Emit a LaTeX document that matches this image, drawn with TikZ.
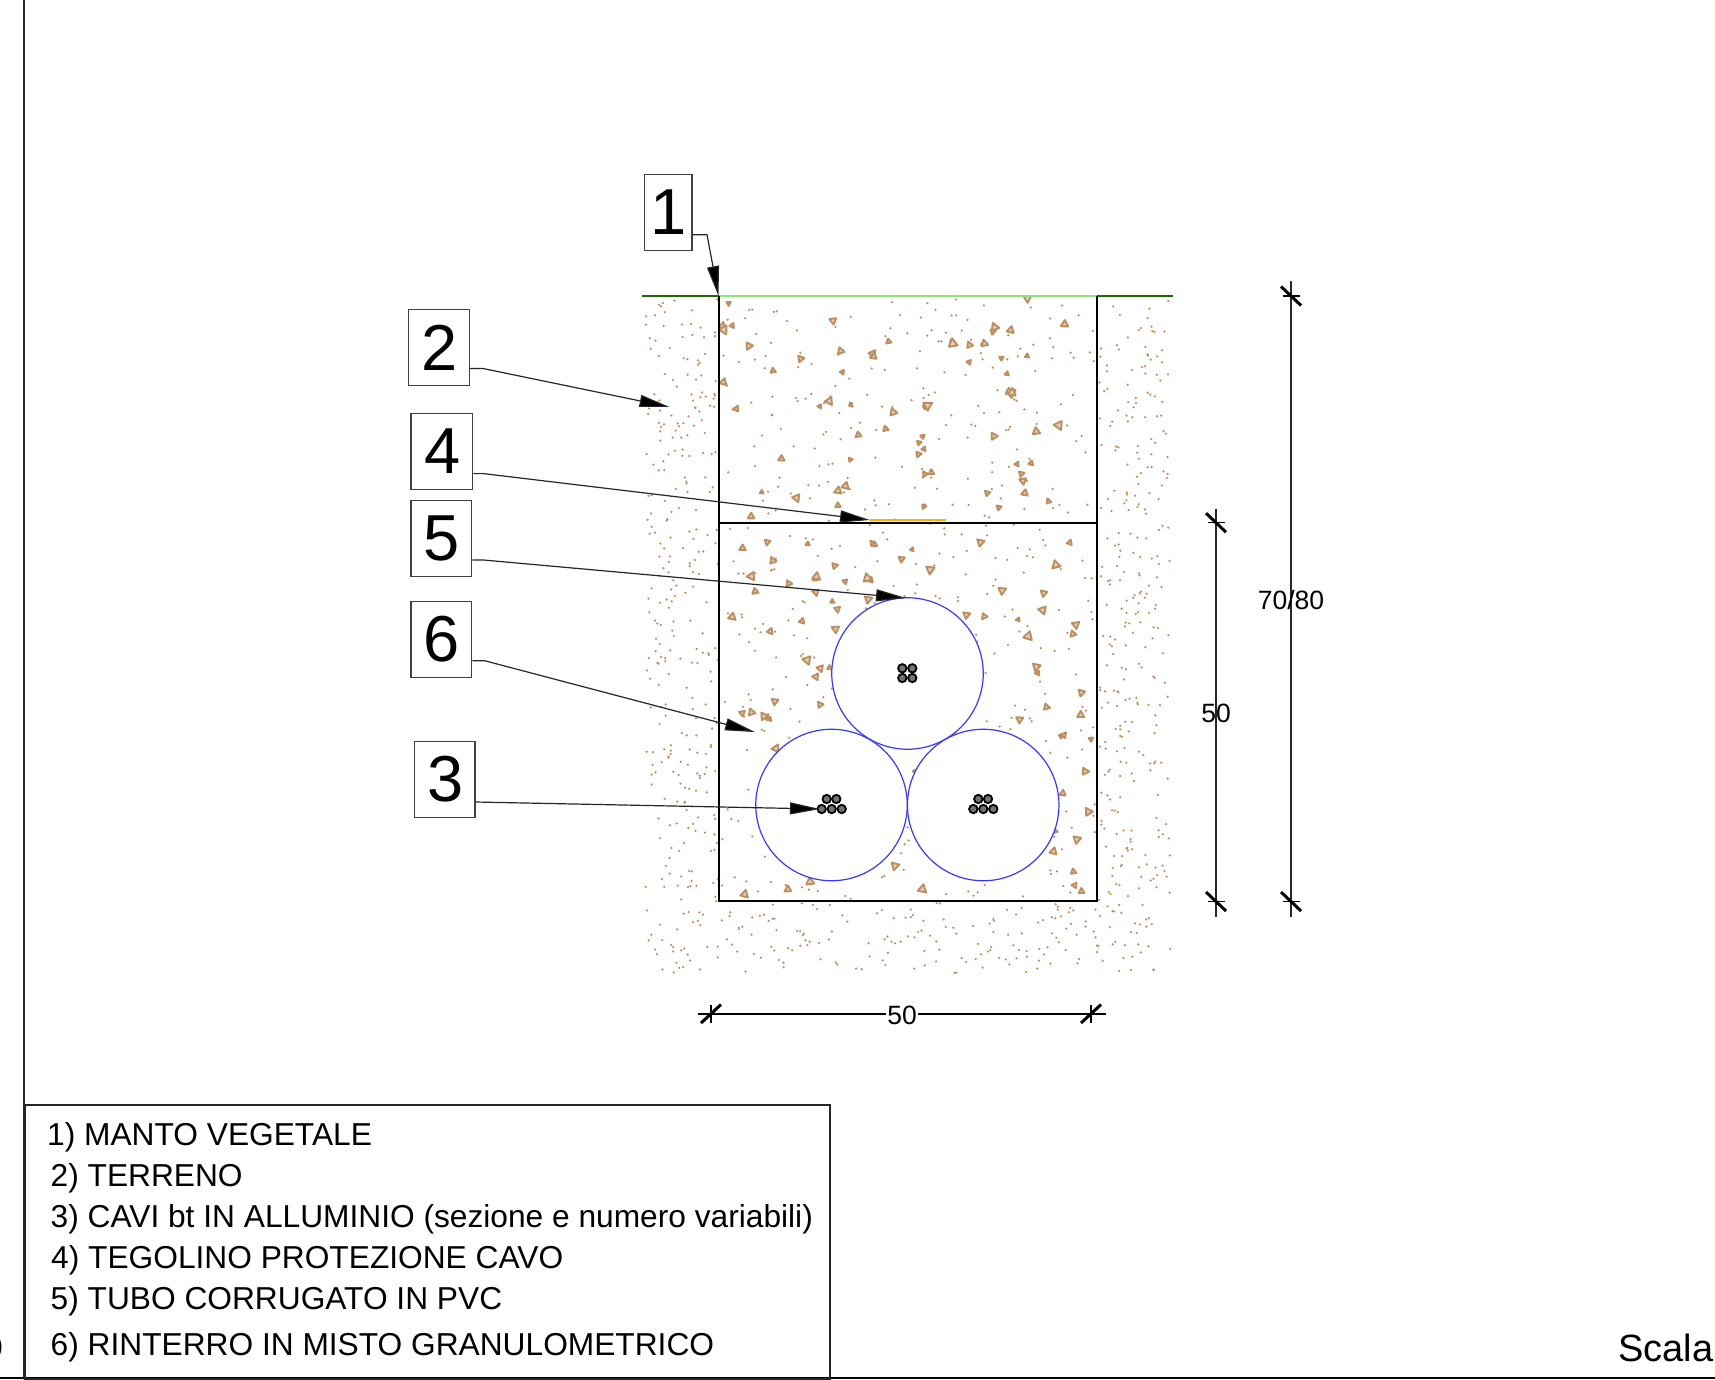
\documentclass[tikz,border=0pt]{standalone}
\usepackage{fontspec}
\setmainfont{Liberation Sans}
\usetikzlibrary{arrows.meta}
\definecolor{soil}{HTML}{BC8F63}
\definecolor{pipeblue}{HTML}{3A3AF0}
\definecolor{lawn}{HTML}{8CE878}
\definecolor{lawndark}{HTML}{1E6B00}
\definecolor{tile}{HTML}{FAB400}
\newcommand{\labdigit}[1]{\raisebox{-1pt}{\hspace{1.5pt}#1}}
\tikzset{
  lab/.style={draw=black!75,line width=1.5pt,fill=white,inner sep=0pt,minimum width=60pt,minimum height=76pt,font=\fontsize{65}{65}\selectfont},
  leader/.style={line width=1.2pt,black!85,-{Triangle[length=30pt,width=12pt,fill=black]}},
  legendtext/.style={anchor=west,inner sep=0pt,font=\fontsize{31.7}{32}\selectfont},
  dimtext/.style={inner sep=0pt,font=\fontsize{26.5}{27}\selectfont},
  dimline/.style={line width=1.4pt,black!85},
  slash/.style={line width=3pt,black},
  tickbar/.style={line width=1.5pt,black},
  trench/.style={line width=2pt,black},
  pipe/.style={draw=pipeblue,line width=1.2pt,fill=white},
  strand/.style={draw=black,line width=1.8pt,fill=black!55},
  soildot/.style={fill=soil,draw=none},
  soiltri/.style={draw=soil,line width=1.9pt,fill=soil!45,line join=round}
}
\begin{document}
\begin{tikzpicture}[x=1pt,y=-1pt]
\useasboundingbox (0,0) rectangle (1715,1379);
\fill[white] (0,0) rectangle (1715,1379);
% soil outside
\pgfmathsetseed{7731}
\foreach \i in {1,...,270}{
  \pgfmathsetmacro{\px}{645+rnd*73}\pgfmathsetmacro{\py}{298+rnd*603}
  \fill[soildot] (\px,\py) circle (1.25pt);}
\foreach \i in {1,...,270}{
  \pgfmathsetmacro{\px}{1099+rnd*72}\pgfmathsetmacro{\py}{298+rnd*603}
  \fill[soildot] (\px,\py) circle (1.25pt);}
\foreach \i in {1,...,210}{
  \pgfmathsetmacro{\px}{645+rnd*526}\pgfmathsetmacro{\py}{903+rnd*70}
  \fill[soildot] (\px,\py) circle (1.25pt);}
% fill inside trench
\foreach \i in {1,...,500}{
  \pgfmathsetmacro{\px}{721+rnd*374}\pgfmathsetmacro{\py}{299+rnd*600}
  \fill[soildot] (\px,\py) circle (1.25pt);}
\foreach \i in {1,...,175}{
  \pgfmathsetmacro{\px}{722+rnd*370}\pgfmathsetmacro{\py}{298+rnd*600}
  \pgfmathsetmacro{\pa}{rnd*360}
  \pgfmathsetmacro{\pr}{2.2+rnd*3}
  \draw[soiltri] ([shift={(\pa:\pr pt)}]\px,\py) -- ([shift={(\pa+120:\pr pt)}]\px,\py) -- ([shift={(\pa+240:\pr pt)}]\px,\py) -- cycle;}
% frame
\coordinate (ft) at (24,0);
\coordinate (fb) at (24,1378);
\coordinate (bl) at (0,1378);
\coordinate (br) at (1715,1378);
\draw[line width=2pt,black!85] (ft) -- (fb);
\draw[line width=2pt,black] (bl) -- (br);
% ground
\coordinate (g0) at (642,296);
\coordinate (g1) at (718.5,296);
\coordinate (g2) at (1097,296);
\coordinate (g3) at (1173,296);
\draw[line width=1.8pt,lawndark] (g0) -- (g1);
\draw[line width=1.8pt,lawn] (g1) -- (g2);
\draw[line width=1.8pt,lawndark] (g2) -- (g3);
% trench
\coordinate (tb1) at (718.5,901);
\coordinate (tb2) at (1097,901);
\coordinate (m1) at (718.5,522.7);
\coordinate (m2) at (1097,522.7);
\draw[trench] (g1) -- (tb1) -- (tb2) -- (g2);
\draw[trench] (m1) -- (m2);
% tile
\coordinate (tl1) at (870,520);
\coordinate (tl2) at (946,520);
\draw[line width=2.6pt,tile] (tl1) -- (tl2);
% pipes
\node[pipe,circle,minimum size=151.5pt,inner sep=0pt] (p1) at (907.5,673.5) {};
\node[pipe,circle,minimum size=151.5pt,inner sep=0pt] (p2) at (831.5,805) {};
\node[pipe,circle,minimum size=151.5pt,inner sep=0pt] (p3) at (983.2,805) {};
% strands
\foreach \x/\y in {902.3/668.3,912.3/668.3,902.3/678,912.3/678,
  826.7/799,836.3/799,821.7/809,831.7/809,841.7/809,
  978.3/799,988/799,973.3/809,983.3/809,993.3/809}
  \draw[strand] (\x,\y) circle (4.2pt);
% labels
\node[lab,minimum width=47.5pt] (l1) at (668,212.5) {\labdigit{1}};
\node[lab,minimum width=61pt] (l2) at (438.8,347.5) {\labdigit{2}};
\node[lab,minimum width=61.5pt] (l4) at (441.8,451.5) {\labdigit{4}};
\node[lab,minimum width=60.5pt] (l5) at (441.3,538.5) {\labdigit{5}};
\node[lab,minimum width=60.5pt] (l6) at (441.3,639.5) {\labdigit{6}};
\node[lab,minimum width=60.5pt] (l3) at (444.8,779.5) {\labdigit{3}};
% leaders
\coordinate (a1) at (707,234.7);
\coordinate (t1) at (718.5,296);
\coordinate (a2) at (483,368.5);
\coordinate (t2) at (669.5,407);
\coordinate (a4) at (483.5,473.6);
\coordinate (t4) at (870,520);
\coordinate (a5) at (483.5,560);
\coordinate (t5) at (906,598);
\coordinate (a6) at (484.6,660.7);
\coordinate (t6) at (755,732);
\coordinate (t3) at (820,809);
\draw[leader] ([yshift=-22.2pt]l1.east) -- (a1) -- (t1);
\draw[leader] ([yshift=-21pt]l2.east) -- (a2) -- (t2);
\draw[leader] ([yshift=-22.1pt]l4.east) -- (a4) -- (t4);
\draw[leader] ([yshift=-21.5pt]l5.east) -- (a5) -- (t5);
\draw[leader] ([yshift=-21.2pt]l6.east) -- (a6) -- (t6);
\draw[leader] ([yshift=-22.5pt]l3.east) -- (t3);
% dimensions
\coordinate (d1a) at (1291,281);
\coordinate (d1b) at (1291,916.7);
\coordinate (d2a) at (1216,508.7);
\coordinate (d2b) at (1216,916.7);
\coordinate (d3a) at (698,1014);
\coordinate (d3b) at (1106,1014);
\draw[dimline] (d1a) -- (d1b);
\draw[dimline] (d2a) -- (d2b);
\foreach \x/\y in {1291/296,1291/901.5,1216/522.7,1216/901.5}{
  \draw[slash] (\x-10,\y-9.5) -- (\x+10,\y+9.5);
  \draw[tickbar] (\x-8.5,\y) -- (\x+8.5,\y);}
\node[dimtext,inner xsep=1pt] (d3t) at (902,1015) {50};
\draw[tickbar] (d3a) -- (d3t.west |- d3a);
\draw[tickbar] (d3t.east |- d3b) -- (d3b);
\foreach \x in {711,1091}{
  \draw[slash] (\x-10,1023) -- (\x+10,1004.5);
  \draw[tickbar] (\x,1005) -- (\x,1023);}
\node[dimtext] (d1t) at (1291,600) {70/80};
\node[dimtext] (d2t) at (1216,713) {50};
% legend
\node[draw=black!85,line width=1.5pt,minimum width=805pt,minimum height=274pt,inner sep=0pt,anchor=north west] (legend) at (24,1104) {};
\node[legendtext] (t-1) at (47,1137) {1) MANTO VEGETALE};
\node[legendtext] (t-2) at (50.5,1178) {2) TERRENO};
\node[legendtext] (t-3) at (50.5,1219.5) {3) CAVI bt IN ALLUMINIO (sezione e numero variabili)};
\node[legendtext] (t-4) at (51,1260) {4) TEGOLINO PROTEZIONE CAVO};
\node[legendtext] (t-5) at (50.5,1301) {5) TUBO CORRUGATO IN PVC};
\node[legendtext] (t-6) at (50.5,1347.5) {6) RINTERRO IN MISTO GRANULOMETRICO};
\node[anchor=west,inner sep=0pt,font=\fontsize{38}{39}\selectfont] (scala) at (1618,1348) {Scala};
\node[anchor=east,inner sep=0pt,font=\fontsize{31.7}{32}\selectfont] (cut) at (3,1348) {0};
\end{tikzpicture}
\end{document}
